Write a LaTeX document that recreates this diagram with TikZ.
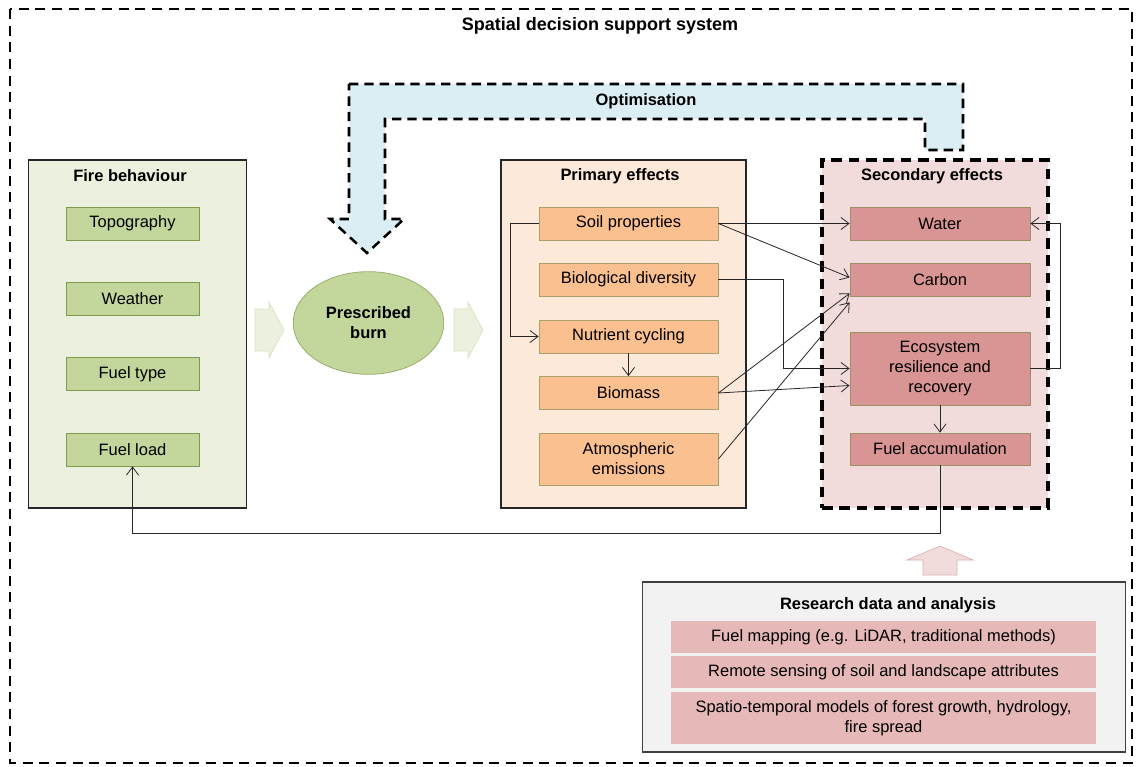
\documentclass[tikz,border=0pt]{standalone}
\usepackage{fontspec}
\setmainfont{Liberation Sans}
\usetikzlibrary{arrows.meta,shapes.geometric,calc}
\newcommand\fsz{\fontsize{12.35}{15}\selectfont}
\newcommand\fszbig{\fontsize{13.5}{16}\selectfont}
\definecolor{firebg}{HTML}{EBF1DE}
\definecolor{gfill}{HTML}{C3D69B}
\definecolor{gline}{HTML}{7F9A48}
\definecolor{primbg}{HTML}{FDE9D9}
\definecolor{ofill}{HTML}{FAC090}
\definecolor{oline}{HTML}{A6A06A}
\definecolor{secbg}{HTML}{F2DCDB}
\definecolor{rfill}{HTML}{D99594}
\definecolor{rline}{HTML}{9C9066}
\definecolor{resbg}{HTML}{F2F2F2}
\definecolor{resitem}{HTML}{E6B9B8}
\definecolor{optfill}{HTML}{DBEEF4}
\definecolor{palegreen}{HTML}{EBF1DE}
\definecolor{palegreenline}{HTML}{D7E4BD}
\definecolor{pinkarr}{HTML}{F2DCDB}
\definecolor{pinkline}{HTML}{D9B3B2}
\tikzset{
  cont/.style={draw=black!85, line width=0.9pt, inner sep=0pt},
  ttl/.style={font=\fsz\bfseries, inner sep=0pt},
  gitem/.style={draw=gline, fill=gfill, line width=0.6pt, minimum width=99.75pt, minimum height=24.75pt, inner sep=0pt, align=center, font=\fsz},
  oitem/.style={draw=oline, fill=ofill, line width=0.6pt, minimum width=134.25pt, minimum height=24.75pt, inner sep=0pt, align=center, font=\fsz},
  ritem/.style={draw=rline, fill=rfill, line width=0.6pt, minimum width=135pt, minimum height=24.75pt, inner sep=0pt, align=center, font=\fsz},
  resbox/.style={fill=resitem, minimum width=318.75pt, minimum height=24pt, inner sep=0pt, align=center, font=\fsz},
  arr/.style={draw=black!85, line width=0.6pt, -{Straight Barb[length=6pt,width=9pt]}},
  lnk/.style={draw=black!85, line width=0.6pt}
}
\begin{document}
\begin{tikzpicture}[x=0.75pt,y=-0.75pt]
\useasboundingbox (0,0) rectangle (1136,767);
% outer dashed frame
\draw[line width=1.6pt, dash pattern=on 7.5pt off 5pt] (10,9) rectangle (1132,763);
\node[ttl, font=\fszbig\bfseries] (sdss) at (600,26) {Spatial decision support system};

% Optimisation arrow
\draw[fill=optfill, line width=1.9pt, dash pattern=on 7pt off 4.5pt]
  (349,84) -- (963,84) -- (963,150) -- (925,150) -- (925,119) -- (385,119)
  -- (385,219) -- (404,219) -- (367,253) -- (330,219) -- (349,219) -- cycle;
\node[ttl] (opt) at (646,101) {Optimisation};

% containers
\node[cont, fill=firebg, minimum width=163.5pt, minimum height=261pt] (fire) at (137.5,334) {};
\node[ttl] (firet) at (130,176) {Fire behaviour};
\node[cont, fill=primbg, minimum width=183.75pt, minimum height=261pt] (prim) at (623.5,334) {};
\node[ttl] (primt) at (620,176) {Primary effects};
\node[fill=secbg, draw=black, line width=2.4pt, dash pattern=on 8pt off 5pt, minimum width=169.5pt, minimum height=261pt, inner sep=0pt] (sec) at (935,334) {};
\node[ttl] (sect) at (932,176) {Secondary effects};

% fire behaviour items
\node[gitem] (topo) at (132.5,223.5) {Topography};
\node[gitem] (weather) at (132.5,298.5) {Weather};
\node[gitem] (ftype) at (132.5,374) {Fuel type};
\node[gitem] (fload) at (132.5,449.5) {Fuel load};

% pale block arrows
\draw[fill=palegreen, draw=palegreenline, line width=0.5pt]
  (255,309) -- (269,309) -- (269,302) -- (284,330) -- (269,358) -- (269,351) -- (255,351) -- cycle;
\draw[fill=palegreen, draw=palegreenline, line width=0.5pt]
  (454,309) -- (468,309) -- (468,302) -- (483,330) -- (468,358) -- (468,351) -- (454,351) -- cycle;

% prescribed burn
\node[ellipse, draw=gline!80, fill=gfill, line width=0.6pt, minimum width=113pt, minimum height=77pt, inner sep=0pt, align=center, font=\fsz\bfseries] (burn) at (368.5,323) {Prescribed\\burn};

% primary items
\node[oitem] (soil) at (628.5,223.5) {Soil properties};
\node[oitem] (bio) at (628.5,279.5) {Biological diversity};
\node[oitem] (nutr) at (628.5,336.5) {Nutrient cycling};
\node[oitem] (biomass) at (628.5,393) {Biomass};
\node[oitem, minimum height=39pt] (atm) at (628.5,459) {Atmospheric\\emissions};

% secondary items
\node[ritem] (water) at (940,223.5) {Water};
\node[ritem] (carbon) at (940,279.5) {Carbon};
\node[ritem, minimum height=54.75pt] (eco) at (940,368.5) {Ecosystem\\resilience and\\recovery};
\node[ritem, minimum height=24pt] (facc) at (940,449) {Fuel accumulation};

% research box
\node[draw=black!75, line width=1.2pt, fill=resbg, minimum width=362.25pt, minimum height=127.5pt, inner sep=0pt] (res) at (884,667) {};
\node[ttl] (rest) at (888,605) {Research data and analysis};
\node[resbox] (fm) at (883.5,637) {Fuel mapping (e.g. LiDAR, traditional methods)};
\node[resbox] (rs) at (883.5,672) {Remote sensing of soil and landscape attributes};
\node[resbox, minimum height=39pt] (st) at (883.5,718) {Spatio-temporal models of forest growth, hydrology,\\fire spread};

% pink up arrow
\draw[fill=pinkarr, draw=pinkline, line width=0.5pt]
  (923,575) -- (923,560) -- (907,560) -- (940,546) -- (973,560) -- (957,560) -- (957,575) -- cycle;

% connectors
\draw[arr] (soil.west) -- ++(-28,0) |- (nutr.west);
\draw[arr] (nutr.south) -- (biomass.north);
\draw[arr] (soil.east) -- (water.west);
\draw[arr] (soil.east) -- ($(carbon.west)+(0,-2)$);
\draw[arr] (bio.east) -- ++(65,0) |- (eco.west);
\draw[arr] (biomass.east) -- ($(carbon.south west)+(0,-3)$);
\draw[arr] (biomass.east) -- ($(eco.west)+(0,17)$);
\draw[arr] (atm.east) -- ($(carbon.south west)+(0,6)$);
\draw[arr] (eco.east) -- ++(30,0) |- (water.east);
\draw[arr] (eco.south) -- (facc.north);
\coordinate (lowrow) at (0,533);
\draw[arr] (facc.south) -- (facc.south |- lowrow) -| (fload.south);
\end{tikzpicture}
\end{document}
